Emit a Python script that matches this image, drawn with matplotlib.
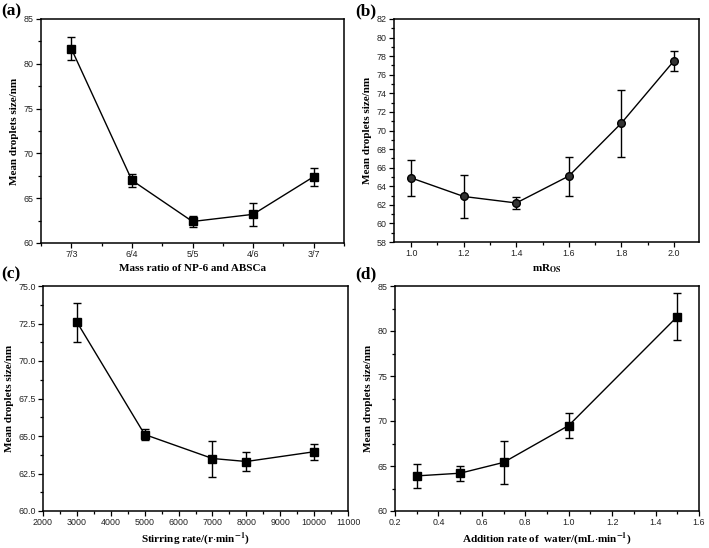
import matplotlib
matplotlib.use("Agg")
import matplotlib.pyplot as plt
from matplotlib.ticker import MultipleLocator, AutoMinorLocator, FormatStrFormatter

plt.rcParams["font.family"] = "Liberation Sans"
plt.rcParams["mathtext.fontset"] = "stix"

# (a) mass ratio of NP-6 and ABSCa
ratio_labels = ["7/3", "6/4", "5/5", "4/6", "3/7"]
ratio_size = [81.7, 67.0, 62.4, 63.2, 67.4]
ratio_err = [1.3, 0.7, 0.6, 1.3, 1.0]

# (b) mR_OS
mros = [1.0, 1.2, 1.4, 1.6, 1.8, 2.0]
mros_size = [64.9, 62.9, 62.2, 65.1, 70.8, 77.5]
mros_err = [1.9, 2.3, 0.6, 2.1, 3.6, 1.1]

# (c) stirring rate
stir = [3000, 5000, 7000, 8000, 10000]
stir_size = [72.6, 65.1, 63.5, 63.3, 63.95]
stir_err = [1.3, 0.35, 1.2, 0.65, 0.55]

# (d) addition rate of water
water = [0.3, 0.5, 0.7, 1.0, 1.5]
water_size = [63.9, 64.2, 65.4, 69.5, 81.6]
water_err = [1.35, 0.85, 2.35, 1.35, 2.6]

W, H = 709, 548
fig = plt.figure(figsize=(W / 100, H / 100), dpi=100)


def box(l, r, t, b):
    return [l / W, (H - b) / H, (r - l) / W, (b - t) / H]


lab_font = dict(family="Liberation Serif", weight="bold", size=8)
panel_font = dict(family="Liberation Serif", weight="bold", size=12.5)


def style(ax):
    ax.tick_params(which="both", direction="out", top=False, right=False,
                   labelsize=6.4, width=0.9, pad=1.8, labelcolor="#222222")
    ax.tick_params(which="major", length=3.5)
    ax.tick_params(which="minor", length=2)
    for s in ax.spines.values():
        s.set_linewidth(1.1)
    ax.set_ylabel("Mean droplets size/nm", labelpad=3, **lab_font)


def draw(ax, x, y, e, marker):
    ax.errorbar(x, y, yerr=e, color="black", lw=1.0, marker=marker,
                ms=5.5, mfc="black" if marker == "s" else "#333333",
                mec="black", capsize=3, elinewidth=1.0, capthick=1.0)


# (a)
ax = fig.add_axes(box(41, 344, 19, 243))
pos = list(range(1, len(ratio_labels) + 1))
draw(ax, pos, ratio_size, ratio_err, "s")
ax.set_xlim(0.5, 5.5)
ax.set_ylim(60, 85)
ax.set_xticks(pos)
ax.set_xticklabels(ratio_labels)
ax.xaxis.set_minor_locator(MultipleLocator(0.5))
ax.yaxis.set_major_locator(MultipleLocator(5))
ax.yaxis.set_minor_locator(AutoMinorLocator(2))
style(ax)
ax.set_xlabel("Mass ratio of NP-6 and ABSCa", labelpad=3, **lab_font)
fig.text(1 / W, 1 - 11 / H, "(a)", va="center", **panel_font)

# (b)
ax = fig.add_axes(box(394, 699, 19, 242))
draw(ax, mros, mros_size, mros_err, "o")
ax.set_xlim(0.935, 2.095)
ax.set_ylim(58, 82)
ax.xaxis.set_major_locator(MultipleLocator(0.2))
ax.xaxis.set_minor_locator(MultipleLocator(0.1))
ax.xaxis.set_major_formatter(FormatStrFormatter("%.1f"))
ax.yaxis.set_major_locator(MultipleLocator(2))
ax.yaxis.set_minor_locator(AutoMinorLocator(2))
style(ax)
ax.set_xlabel(r"mR$_{\mathbf{OS}}$", labelpad=3, **lab_font)
fig.text(355 / W, 1 - 11 / H, "(b)", va="center", **panel_font)

# (c)
ax = fig.add_axes(box(43, 348, 286, 511))
draw(ax, stir, stir_size, stir_err, "s")
ax.set_xlim(2000, 11000)
ax.set_ylim(60, 75)
ax.xaxis.set_major_locator(MultipleLocator(1000))
ax.xaxis.set_minor_locator(MultipleLocator(500))
ax.yaxis.set_major_locator(MultipleLocator(2.5))
ax.yaxis.set_minor_locator(AutoMinorLocator(2))
ax.yaxis.set_major_formatter(FormatStrFormatter("%.1f"))
style(ax)
ax.set_xlabel(r"Stirring rate/(r$\cdot$min$^{\mathbf{-1}}$)", labelpad=2, **lab_font)
fig.text(1 / W, 1 - 274 / H, "(c)", va="center", **panel_font)

# (d)
ax = fig.add_axes(box(395, 699, 286, 511))
draw(ax, water, water_size, water_err, "s")
ax.set_xlim(0.2, 1.6)
ax.set_ylim(60, 85)
ax.xaxis.set_major_locator(MultipleLocator(0.2))
ax.xaxis.set_minor_locator(MultipleLocator(0.1))
ax.xaxis.set_major_formatter(FormatStrFormatter("%.1f"))
ax.yaxis.set_major_locator(MultipleLocator(5))
ax.yaxis.set_minor_locator(AutoMinorLocator(2))
style(ax)
ax.set_xlabel(r"Addition rate of  water/(mL$\cdot$min$^{\mathbf{-1}}$)", labelpad=2, **lab_font)
fig.text(355 / W, 1 - 274 / H, "(d)", va="center", **panel_font)

fig.savefig("out.png", dpi=100)
